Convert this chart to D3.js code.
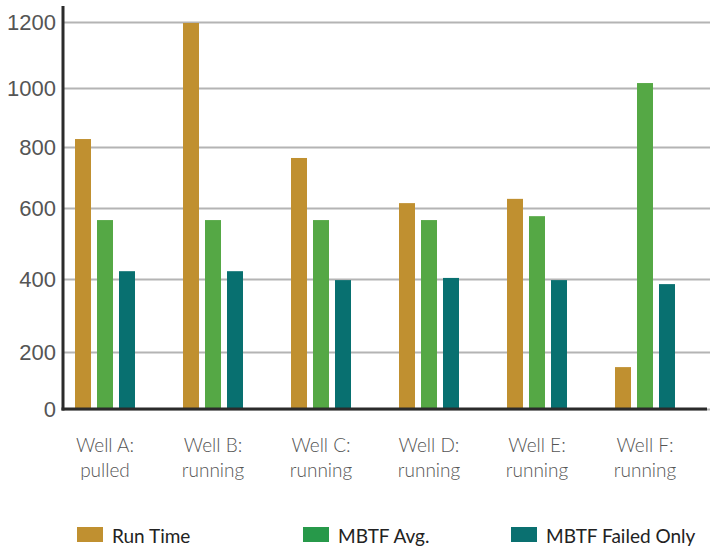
<!DOCTYPE html>
<html>
<head>
<meta charset="utf-8">
<script src="https://cdn.jsdelivr.net/npm/d3@7"></script>
<style>
  body { margin: 0; background: #fff; }
  svg { display: block; font-family: 'Lato', 'DejaVu Sans', sans-serif; }
  .tick text { fill: #555; font-size: 22px; font-weight: 300; }
  .tick line { stroke: #b4b4b4; stroke-width: 2; }
  .well-label { fill: #555; font-size: 19px; font-weight: 300; }
  .legend text { fill: #222; font-size: 19px; }
</style>
</head>
<body>
<div class="chart"></div>
<script>
const wells = ['Well A:', 'Well B:', 'Well C:', 'Well D:', 'Well E:', 'Well F:']
const statuses = ['pulled', 'running', 'running', 'running', 'running', 'running']
const seriesNames = ['Run Time', 'MBTF Avg.', 'MBTF Failed Only']
const runTime = [827, 1197, 764, 616, 630, 147]
const mbtfAvg = [566, 566, 566, 566, 577, 1015]
const mbtfFailed = [422, 422, 397, 403, 397, 386]
const yTicks = [0, 200, 400, 600, 800, 1000, 1200]

const barColors = ['#c09030', '#55a845', '#087070']
const legendColors = ['#c09030', '#27994a', '#0a7070']

const width = 716
const height = 547
const axisX = 63
const gridRight = 710

const svg = d3.select('.chart').append('svg')
  .attr('width', width)
  .attr('height', height)

// the original artwork spaces its gridlines unevenly, so map each tick to its own spot
const y = d3.scaleLinear()
  .domain(yTicks)
  .range([409, 352, 279, 208, 147, 88, 22])

const x0 = d3.scaleBand()
  .domain(wells)
  .range([75, 675])
  .paddingInner(48 / 108)

const x1 = d3.scaleBand()
  .domain(seriesNames)
  .range([0, x0.bandwidth()])
  .paddingInner(6 / 22)

const color = d3.scaleOrdinal().domain(seriesNames).range(barColors)

const yAxis = svg.append('g')
  .attr('transform', `translate(${axisX},0)`)
  .call(d3.axisLeft(y)
    .tickValues(yTicks)
    .tickFormat(d3.format('d'))
    .tickSize(-(gridRight - axisX))
    .tickPadding(7))

yAxis.select('.domain').remove()
yAxis.selectAll('.tick line').attr('x1', 0)

const rows = wells.map((w, i) => ({
  well: w,
  values: [runTime[i], mbtfAvg[i], mbtfFailed[i]]
}))

svg.append('g').selectAll('g')
  .data(rows)
  .enter().append('g')
  .attr('transform', d => `translate(${x0(d.well)},0)`)
  .selectAll('rect')
  .data(d => d.values.map((v, j) => ({ key: seriesNames[j], value: v })))
  .enter().append('rect')
  .attr('x', d => x1(d.key))
  .attr('width', x1.bandwidth())
  .attr('y', d => y(d.value))
  .attr('height', d => y(0) - y(d.value))
  .attr('fill', d => color(d.key))

// axis lines
svg.append('line')
  .attr('x1', axisX).attr('x2', axisX)
  .attr('y1', 6).attr('y2', y(0) + 1.5)
  .attr('stroke', '#2b2b2b').attr('stroke-width', 3)

svg.append('line')
  .attr('x1', axisX - 1.5).attr('x2', 707)
  .attr('y1', y(0)).attr('y2', y(0))
  .attr('stroke', '#2b2b2b').attr('stroke-width', 3)

// category labels
const labels = svg.append('g').selectAll('text')
  .data(wells)
  .enter().append('text')
  .attr('class', 'well-label')
  .attr('text-anchor', 'middle')

labels.append('tspan')
  .attr('x', d => x0(d) + x0.bandwidth() / 2)
  .attr('y', 452)
  .text(d => d)

labels.append('tspan')
  .attr('x', d => x0(d) + x0.bandwidth() / 2)
  .attr('y', 477)
  .text((d, i) => statuses[i])

// legend
const legendX = [77, 303, 511]
const legend = svg.append('g').attr('class', 'legend')
  .selectAll('g')
  .data(seriesNames)
  .enter().append('g')
  .attr('transform', (d, i) => `translate(${legendX[i]},527)`)

legend.append('rect')
  .attr('width', 26)
  .attr('height', 15)
  .attr('fill', (d, i) => legendColors[i])

legend.append('text')
  .attr('x', 35)
  .attr('y', 16)
  .text(d => d)
</script>
</body>
</html>
